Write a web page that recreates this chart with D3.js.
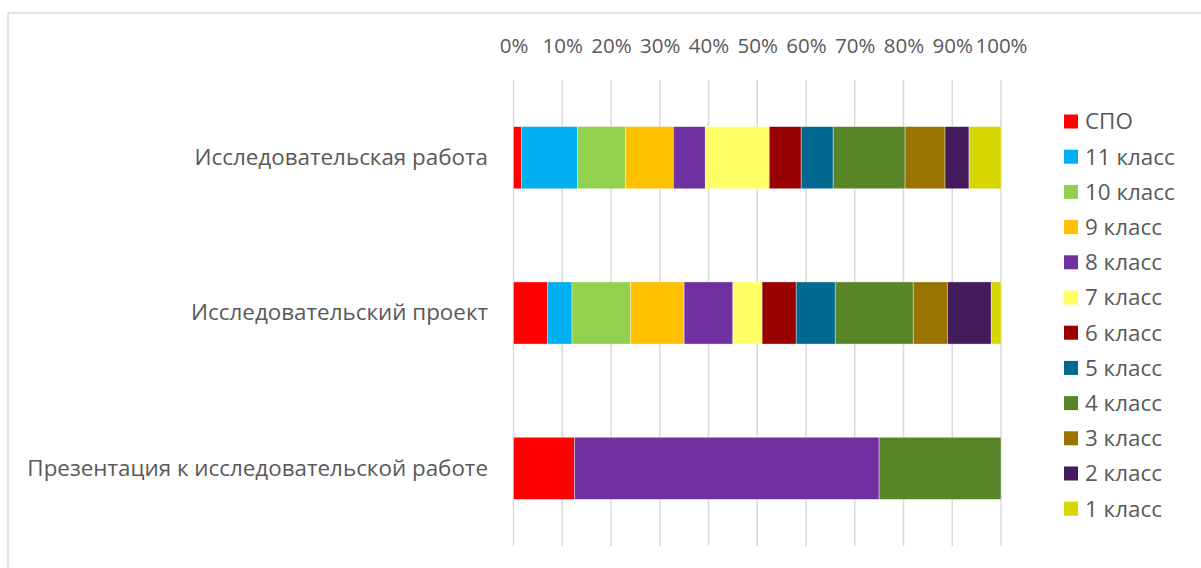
<html>
  <head>
    <script src="https://d3js.org/d3.v7.min.js"></script>
    <meta charset="UTF-8">
    <style>
      body { margin: 0; background: #fff; }
      text { font-family: "Open Sans", "Noto Sans", sans-serif; fill: #595959; }
    </style>
  </head>
  <body>
    <svg id="chart" width="1201" height="568"></svg>
    <script>
    // categories (top to bottom) and series in legend order
    var categories = ["Исследовательская работа", "Исследовательский проект", "Презентация к исследовательской работе"];
    var series = ["СПО", "11 класс", "10 класс", "9 класс", "8 класс", "7 класс", "6 класс", "5 класс", "4 класс", "3 класс", "2 класс", "1 класс"];
    var colors = ["#ff0000", "#00b0f0", "#92d050", "#ffc000", "#7030a0", "#ffff66", "#990000", "#006990", "#588527", "#987300", "#441c5c", "#d6d600"];

    // values per category, one per series
    var rabota = [1, 7, 6, 6, 4, 8, 4, 4, 9, 5, 3, 4];
    var proekt = [7, 5, 12, 11, 10, 6, 7, 8, 16, 7, 9, 2];
    var prezentaciya = [1, 0, 0, 0, 5, 0, 0, 0, 2, 0, 0, 0];
    var tickValues = [0, 0.1, 0.2, 0.3, 0.4, 0.5, 0.6, 0.7, 0.8, 0.9, 1];

    var rows = [rabota, proekt, prezentaciya];
    var table = categories.map(function(c, i){
      var d = {name: c};
      series.forEach(function(s, j){ d[s] = rows[i][j]; });
      return d;
    });

    var svg = d3.select("#chart");

    // chart frame
    svg.append("rect")
      .attr("x", 8).attr("y", 13)
      .attr("width", 1210).attr("height", 570)
      .attr("fill", "none")
      .attr("stroke", "#d9d9d9")
      .attr("stroke-width", 1.5);

    var x = d3.scaleLinear().domain([0, 1]).range([513.5, 1001]);
    var y = d3.scaleBand().domain(categories).range([80, 546]).paddingInner(0.6).paddingOuter(0.3);

    var stacked = d3.stack().keys(series).offset(d3.stackOffsetExpand)(table);

    // gridlines
    svg.append("g")
      .selectAll("line")
      .data(tickValues)
      .enter()
      .append("line")
      .attr("x1", d => x(d)).attr("x2", d => x(d))
      .attr("y1", 80).attr("y2", 546)
      .attr("stroke", "#d9d9d9")
      .attr("stroke-width", 1.5);

    // top axis labels
    var xAxis = svg.append("g")
      .attr("transform", "translate(0,53)")
      .call(d3.axisTop(x).tickValues(tickValues).tickFormat(d3.format(".0%")).tickSize(0).tickPadding(0));
    xAxis.select(".domain").remove();
    xAxis.selectAll("text").attr("font-size", 20.5).attr("fill", "#595959").attr("dy", 0);

    // bars
    svg.append("g")
      .selectAll("g")
      .data(stacked)
      .enter()
      .append("g")
      .attr("fill", (d, i) => colors[i])
      .selectAll("rect")
      .data(d => d)
      .enter()
      .append("rect")
      .attr("x", d => x(d[0]))
      .attr("width", d => x(d[1]) - x(d[0]))
      .attr("y", d => y(d.data.name))
      .attr("height", y.bandwidth())
      .attr("stroke", "#ffffff")
      .attr("stroke-opacity", 0.5)
      .attr("stroke-width", 0.75);

    // category labels
    var yAxis = svg.append("g")
      .attr("transform", "translate(488,0)")
      .call(d3.axisLeft(y).tickSize(0).tickPadding(0));
    yAxis.select(".domain").remove();
    yAxis.selectAll("text").attr("font-size", 22.4).attr("fill", "#595959");

    // legend
    var legend = svg.append("g")
      .selectAll("g")
      .data(series)
      .enter()
      .append("g")
      .attr("transform", (d, i) => "translate(1064," + (121.5 + i * 35.2) + ")");
    legend.append("rect")
      .attr("x", 0).attr("y", -7)
      .attr("width", 14).attr("height", 14)
      .attr("fill", (d, i) => colors[i]);
    legend.append("text")
      .attr("x", 21)
      .attr("dy", "0.35em")
      .attr("font-size", 22.4)
      .text(d => d);
    </script>
  </body>
</html>
